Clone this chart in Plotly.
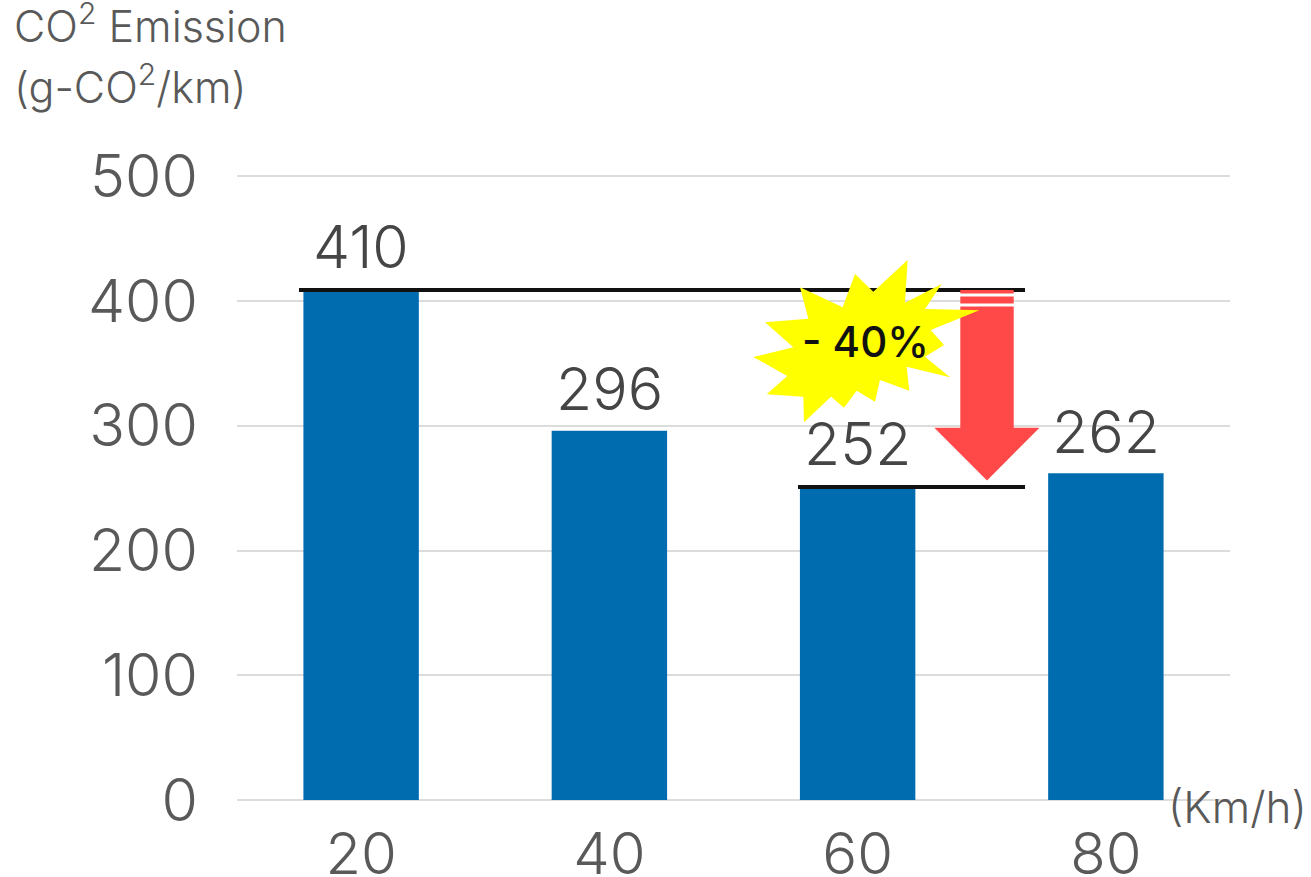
import plotly.graph_objects as go

speeds = ["20", "40", "60", "80"]
emissions = [410, 296, 252, 262]
y_ticks = [0, 100, 200, 300, 400, 500]

W, H = 1311, 877
L, R, T, B = 237, 1230, 175, 800
FONT = "Inter"


def px(x):
    return (x - L) / (R - L)


def py(y):
    return (B - y) / (B - T)


def path(points):
    return "M" + "L".join(f"{px(x):.5f},{py(y):.5f}" for x, y in points) + "Z"


def zoom_pt(a, b):
    return (740 + a / 3, 250 + b / 3)


star = [zoom_pt(*p) for p in [
    (180, 112), (308, 172), (345, 72), (400, 125), (503, 30), (495, 158), (605, 102),
    (555, 177), (718, 181), (572, 240), (612, 285), (555, 320), (630, 382), (500, 350),
    (508, 422), (420, 390), (405, 455), (350, 422), (312, 473), (273, 440), (192, 517),
    (190, 440), (80, 433), (142, 378), (40, 321), (160, 292), (75, 217), (205, 206)]]

arrow = [(960.3, 290), (1013.7, 290), (1013.7, 427.7), (1039.5, 427.7), (987, 480.5),
         (934.3, 427.7), (960.3, 427.7)]


def paper_line(x0, x1, y, color, width):
    return dict(type="line", xref="paper", yref="paper", x0=px(x0), x1=px(x1), y0=py(y), y1=py(y),
                line=dict(color=color, width=width), layer="above")


def paper_path(pts, color):
    return dict(type="path", xref="paper", yref="paper", path=path(pts), fillcolor=color,
                line=dict(width=0), layer="above")


shapes = [
    paper_line(299, 1025, 290, "#111111", 4),
    paper_line(798, 1025, 487, "#111111", 4),
    paper_path(arrow, "#ff4848"),
    paper_line(960, 1014, 295, "#ffffff", 3),
    paper_line(960, 1014, 305, "#ffffff", 3),
    paper_path(star, "#ffff00"),
]


def note(text, x, y, size, color, anchor="left", weight=300):
    return dict(text=text, xref="paper", yref="paper", x=px(x), y=py(y), xanchor=anchor, yanchor="middle",
                showarrow=False, font=dict(family=FONT, size=size, color=color, weight=weight))


annotations = [
    note("CO<sup>2</sup> Emission", 12, 24, 43, "#595959"),
    note("(g-CO<sup>2</sup>/km)", 12, 84, 43, "#595959"),
    note("(Km/h)", 1166, 807, 44, "#595959"),
    note("- 40%", 865, 341, 42, "#111111", "center", 500),
]
annotations += [
    dict(text=str(v), x=i, y=v, xref="x", yref="y", xanchor="center", yanchor="middle", yshift=42,
         showarrow=False, font=dict(family=FONT, size=59, color="#454545", weight=300))
    for i, v in enumerate(emissions)
]

fig = go.Figure(go.Bar(
    x=speeds, y=emissions, marker=dict(color="#006cb0", line=dict(width=0)), width=0.465,
    hoverinfo="skip"))

fig.update_layout(
    width=W, height=H, margin=dict(l=L, r=W - R, t=T, b=H - B),
    paper_bgcolor="white", plot_bgcolor="white", showlegend=False,
    shapes=shapes, annotations=annotations,
    font=dict(family=FONT),
    xaxis=dict(type="category", range=[-0.5, 3.5], showgrid=False, showline=False, ticks="", automargin=False,
               ticklabelstandoff=15,
               tickfont=dict(family=FONT, size=58, color="#595959", weight=300)),
    yaxis=dict(range=[0, 501], tickvals=y_ticks, gridcolor="#dcdcdc", gridwidth=2, automargin=False,
               zeroline=True, zerolinecolor="#dcdcdc", zerolinewidth=2, showline=False, ticks="",
               ticklabelstandoff=38, tickfont=dict(family=FONT, size=59, color="#595959", weight=300)),
)

fig.write_html("out.html", post_script="document.body.style.margin='0';",
               config=dict(displayModeBar=False))
